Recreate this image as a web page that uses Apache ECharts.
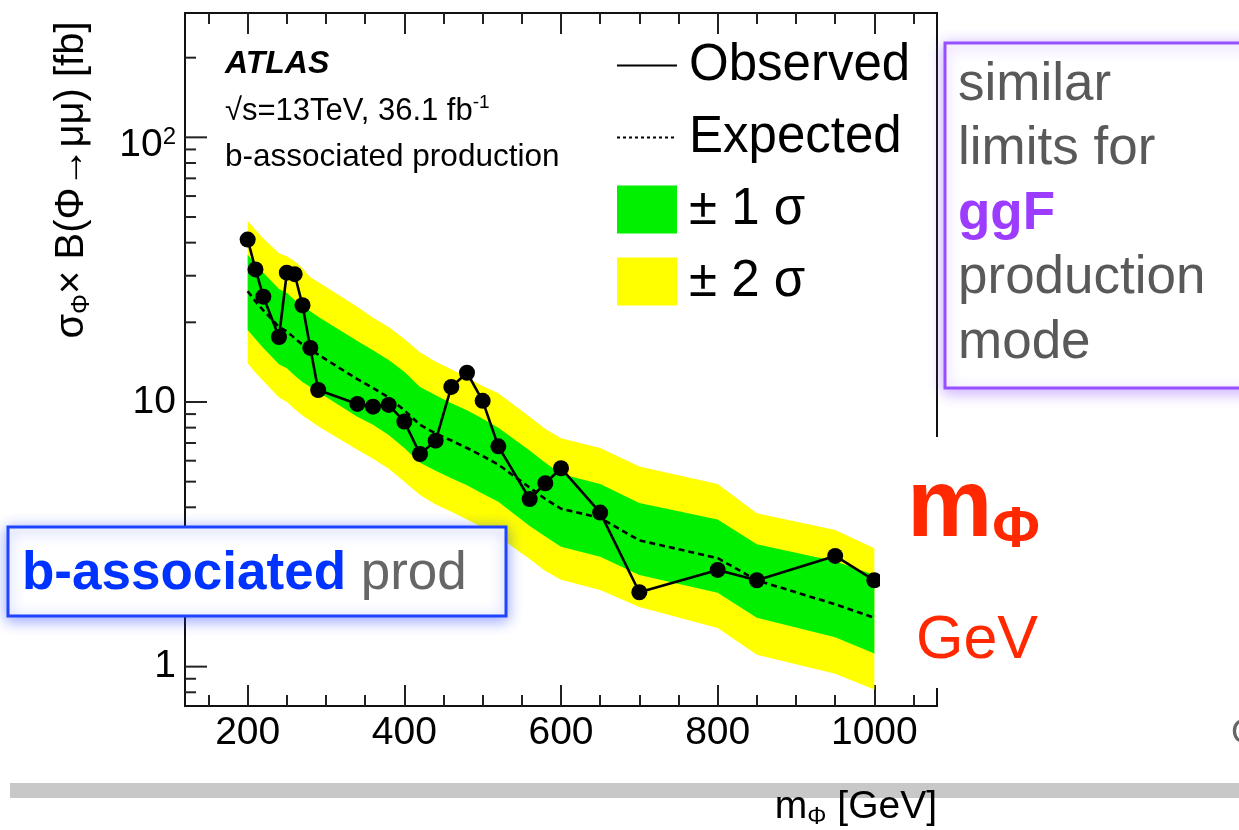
<!DOCTYPE html>
<html>
<head>
<meta charset="utf-8">
<title>ATLAS b-associated limits</title>
<script src="https://cdn.jsdelivr.net/npm/echarts@6/dist/echarts.min.js"></script>
<style>
  html, body { margin: 0; padding: 0; background: #fff; }
  #chart { width: 1239px; height: 830px; }
</style>
</head>
<body>
<div id="chart"></div>
<script>
// Scalar mass points (GeV) and 95% CL limits on sigma x B (fb)
const masses   = [200, 210, 220, 240, 250, 260, 270, 280, 290, 340, 360, 380, 400, 420, 440, 460, 480, 500, 520, 560, 580, 600, 650, 700, 800, 850, 950, 1000];
const observed = [41.1, 31.7, 25.0, 17.6, 30.8, 30.4, 23.2, 16.0, 11.1, 9.83, 9.6, 9.75, 8.43, 6.36, 7.14, 11.4, 12.9, 10.1, 6.8, 4.30, 4.93, 5.62, 3.82, 1.91, 2.32, 2.12, 2.62, 2.12];
const expected = [26.2, 24.0, 22.2, 19.2, 18.5, 17.4, 16.5, 15.8, 15.1, 12.2, 11.3, 10.4, 9.3, 8.2, 7.6, 7.15, 6.7, 6.25, 5.8, 4.75, 4.3, 3.95, 3.65, 3.0, 2.57, 2.12, 1.72, 1.53];
const minus2   = [14.0, 12.9, 12.0, 10.4, 10.0, 9.4, 8.9, 8.5, 8.1, 6.6, 6.1, 5.6, 5.0, 4.45, 4.1, 3.85, 3.6, 3.35, 3.1, 2.55, 2.3, 2.13, 1.95, 1.68, 1.40, 1.11, 0.94, 0.82];
const minus1   = [18.7, 17.3, 16.0, 13.9, 13.4, 12.6, 11.9, 11.4, 10.9, 8.8, 8.2, 7.5, 6.7, 5.9, 5.5, 5.15, 4.85, 4.5, 4.2, 3.4, 3.1, 2.84, 2.6, 2.22, 1.90, 1.53, 1.29, 1.12];
const plus1    = [36.0, 33.2, 30.8, 26.7, 25.8, 24.3, 23.0, 22.0, 21.0, 17.0, 15.7, 14.4, 13.0, 11.4, 10.6, 9.9, 9.3, 8.65, 8.0, 6.55, 5.9, 5.35, 4.9, 4.15, 3.6, 2.9, 2.5, 2.22];
const plus2    = [48.3, 44.8, 41.5, 36.5, 35.5, 34.0, 32.0, 29.6, 28.4, 22.9, 20.8, 19.2, 17.3, 15.4, 14.2, 13.3, 12.4, 11.5, 10.8, 8.8, 7.9, 7.3, 6.7, 5.7, 4.9, 3.8, 3.28, 2.8];

// Axis ranges and tick values
const X_MIN = 120, X_MAX = 1080;
const Y_MIN = 0.71, Y_MAX = 295;
const xMajorTicks = [200, 400, 600, 800, 1000];
const xMinorTicks = [150, 250, 300, 350, 450, 500, 550, 650, 700, 750, 850, 900, 950, 1050];
const yMajorTicks = [1, 10, 100];
const yMinorTicks = [0.8, 0.9, 2, 3, 4, 5, 6, 7, 8, 9, 20, 30, 40, 50, 60, 70, 80, 90, 200];

const FONT = "'Liberation Sans', Arial, Helvetica, sans-serif";
const TICK_COLOR = '#222';

const chart = echarts.init(document.getElementById('chart'), null, { renderer: 'canvas' });

// Filled band between two limit curves, drawn once as a single polygon
function bandRenderer(lo, hi) {
  return function (params, api) {
    if (params.dataIndex !== 0) return;
    const pts = [];
    for (let i = 0; i < masses.length; i++) pts.push(api.coord([masses[i], hi[i]]));
    for (let i = masses.length - 1; i >= 0; i--) pts.push(api.coord([masses[i], lo[i]]));
    return { type: 'polygon', shape: { points: pts }, style: { fill: api.visual('color') } };
  };
}

// Tick marks on the left edge of the log axis
function yTickRenderer(len) {
  return function (params, api) {
    const p = api.coord([api.value(0), api.value(1)]);
    return {
      type: 'line',
      shape: { x1: p[0], y1: p[1], x2: p[0] + len, y2: p[1] },
      style: { stroke: TICK_COLOR, lineWidth: 2 }
    };
  };
}

function xAxisDef(position, ticks, len, withLabels) {
  return {
    type: 'value', position: position, min: X_MIN, max: X_MAX,
    splitLine: { show: false }, axisLine: { show: false },
    axisTick: { show: true, inside: true, length: len, customValues: ticks,
                lineStyle: { color: TICK_COLOR, width: 2 } },
    axisLabel: withLabels
      ? { show: true, customValues: ticks, fontSize: 39, fontFamily: FONT, color: '#000', margin: 8,
          formatter: function (v) { return String(v); } }
      : { show: false }
  };
}

const option = {
  animation: false,
  backgroundColor: '#fff',
  grid: {
    left: 185, top: 13, right: 302, bottom: 124,
    show: true, borderColor: '#111', borderWidth: 2, backgroundColor: 'transparent',
    containLabel: false, outerBoundsMode: 'none'
  },
  xAxis: [
    xAxisDef('bottom', xMajorTicks, 21, true),
    xAxisDef('bottom', xMinorTicks, 11, false),
    xAxisDef('top', xMajorTicks, 21, false),
    xAxisDef('top', xMinorTicks, 11, false)
  ],
  yAxis: {
    type: 'log', logBase: 10, min: Y_MIN, max: Y_MAX,
    axisLine: { show: false }, axisTick: { show: false }, splitLine: { show: false },
    minorTick: { show: false },
    axisLabel: {
      margin: 9,
      formatter: function (v) {
        const e = Math.log10(v);
        if (Math.abs(e - Math.round(e)) > 1e-6) return '';
        const n = Math.round(e);
        if (n === 0) return '{c|1}';
        if (n === 1) return '{c|10}';
        if (n === 2) return '{b|10}{s|2}';
        return '';
      },
      rich: {
        c: { fontSize: 39, fontFamily: FONT, color: '#000' },
        b: { fontSize: 39, fontFamily: FONT, color: '#000', lineHeight: 40, verticalAlign: 'bottom' },
        s: { fontSize: 24, fontFamily: FONT, color: '#000', lineHeight: 54 }
      }
    }
  },
  legend: {
    left: 616, top: 40, orient: 'vertical', padding: 0,
    itemWidth: 60, itemHeight: 48, itemGap: 21,
    selectedMode: false,
    textStyle: { fontSize: 51, fontFamily: FONT, color: '#000', lineHeight: 48, padding: [0, 0, 0, 7] },
    data: [
      { name: 'Observed', itemStyle: { opacity: 0 }, lineStyle: { width: 2, type: 'solid', color: '#000' } },
      { name: 'Expected', itemStyle: { opacity: 0 }, lineStyle: { width: 2, type: [3, 3], color: '#000' } },
      { name: '± 1 σ', icon: 'rect' },
      { name: '± 2 σ', icon: 'rect' }
    ]
  },
  series: [
    {
      name: '± 2 σ', type: 'custom', silent: true,
      itemStyle: { color: '#ffff00' },
      data: masses.map((m, i) => [m, minus2[i], plus2[i]]),
      encode: { x: 0, y: [1, 2] },
      renderItem: bandRenderer(minus2, plus2), z: 1
    },
    {
      name: '± 1 σ', type: 'custom', silent: true,
      itemStyle: { color: '#00f000' },
      data: masses.map((m, i) => [m, minus1[i], plus1[i]]),
      encode: { x: 0, y: [1, 2] },
      renderItem: bandRenderer(minus1, plus1), z: 1
    },
    {
      name: 'Expected', type: 'line', symbol: 'none',
      data: masses.map((m, i) => [m, expected[i]]),
      lineStyle: { color: '#000', width: 2.6, type: [6, 4] },
      itemStyle: { color: '#000' }, z: 3
    },
    {
      name: 'Observed', type: 'line', symbol: 'circle', symbolSize: 16,
      data: masses.map((m, i) => [m, observed[i]]),
      lineStyle: { color: '#000', width: 2.6 },
      itemStyle: { color: '#000' }, z: 4
    },
    {
      name: 'y-major-ticks', type: 'custom', silent: true,
      data: yMajorTicks.map(v => [X_MIN, v]), encode: { x: 0, y: 1 },
      renderItem: yTickRenderer(22), z: 5
    },
    {
      name: 'y-minor-ticks', type: 'custom', silent: true,
      data: yMinorTicks.map(v => [X_MIN, v]), encode: { x: 0, y: 1 },
      renderItem: yTickRenderer(11), z: 5
    }
  ],
  graphic: {
    elements: [
      // grey separator bar behind the x-axis title
      { type: 'rect', z: 50, shape: { x: 10, y: 783, width: 1229, height: 15 }, style: { fill: '#c8c8c8' } },
      {
        type: 'text', z: 60, x: 937, y: 807,
        style: {
          text: '{n|m}{s|Φ}{n| [GeV]}', align: 'right', verticalAlign: 'middle',
          rich: {
            n: { fontSize: 39, fontFamily: FONT, fill: '#000', lineHeight: 44 },
            s: { fontSize: 24, fontFamily: FONT, fill: '#000', lineHeight: 16, verticalAlign: 'bottom' }
          }
        }
      },
      // y-axis title
      {
        type: 'text', z: 60, x: 72, y: 180, rotation: Math.PI / 2,
        style: {
          text: '{n|σ}{s|Φ}{n|× B(Φ→μμ) [fb]}', align: 'center', verticalAlign: 'middle',
          rich: {
            n: { fontSize: 40, fontFamily: FONT, fill: '#000', lineHeight: 46 },
            s: { fontSize: 25, fontFamily: FONT, fill: '#000', lineHeight: 17, verticalAlign: 'bottom' }
          }
        }
      },
      // experiment labels
      {
        type: 'text', z: 60, x: 225, y: 64,
        style: { text: 'ATLAS', fontSize: 32, fontWeight: 'bold', fontStyle: 'italic', fontFamily: FONT, fill: '#000', verticalAlign: 'middle' }
      },
      {
        type: 'text', z: 60, x: 225, y: 111,
        style: {
          text: '{n|√s=13TeV, 36.1 fb}{s|-1}', verticalAlign: 'middle',
          rich: {
            n: { fontSize: 31, fontFamily: FONT, fill: '#000', lineHeight: 36 },
            s: { fontSize: 19, fontFamily: FONT, fill: '#000', lineHeight: 19, verticalAlign: 'top' }
          }
        }
      },
      {
        type: 'text', z: 60, x: 225, y: 157,
        style: { text: 'b-associated production', fontSize: 31.5, fontFamily: FONT, fill: '#000', verticalAlign: 'middle' }
      },
      // side note box
      {
        type: 'rect', z: 100, shape: { x: 945, y: 43, width: 330, height: 345 },
        style: { fill: '#fff', stroke: '#9650ff', lineWidth: 3, shadowBlur: 14, shadowOffsetY: 3, shadowColor: 'rgba(140,70,255,0.45)' }
      },
      {
        type: 'text', z: 101, x: 958, y: 214,
        style: {
          text: '{g|similar}\n{g|limits for}\n{p|ggF}\n{g|production}\n{g|mode}',
          verticalAlign: 'middle',
          rich: {
            g: { fontSize: 53, fontFamily: FONT, fill: '#595959', lineHeight: 64.5 },
            p: { fontSize: 53, fontFamily: FONT, fontWeight: 'bold', fill: '#9b3cff', lineHeight: 64.5 }
          }
        }
      },
      // production-mode box
      {
        type: 'rect', z: 100, shape: { x: 8, y: 527, width: 498, height: 89 },
        style: { fill: '#fff', stroke: '#1f44ff', lineWidth: 3, shadowBlur: 14, shadowOffsetY: 3, shadowColor: 'rgba(30,60,255,0.45)' }
      },
      {
        type: 'text', z: 101, x: 22, y: 574,
        style: {
          text: '{b|b-associated}{p| prod}', verticalAlign: 'middle',
          rich: {
            b: { fontSize: 53, fontFamily: FONT, fontWeight: 'bold', fill: '#0033ff', lineHeight: 60 },
            p: { fontSize: 53, fontFamily: FONT, fill: '#666666', lineHeight: 60 }
          }
        }
      },
      // mass annotation panel
      { type: 'rect', z: 90, shape: { x: 880, y: 437, width: 220, height: 251 }, style: { fill: '#fff' } },
      {
        type: 'text', z: 101, x: 907, y: 510,
        style: {
          text: '{m|m}{f|Φ}', verticalAlign: 'middle',
          rich: {
            m: { fontSize: 96, fontFamily: FONT, fontWeight: 'bold', fill: '#ff2800', lineHeight: 100 },
            f: { fontSize: 58, fontFamily: FONT, fontWeight: 'bold', fill: '#ff2800', lineHeight: 54, verticalAlign: 'bottom' }
          }
        }
      },
      {
        type: 'text', z: 101, x: 916, y: 641,
        style: { text: 'GeV', fontSize: 61, fontFamily: FONT, fill: '#ff2800', verticalAlign: 'middle' }
      },
      {
        type: 'text', z: 101, x: 1231, y: 733,
        style: { text: 'C', fontSize: 35, fontFamily: FONT, fill: '#666666', verticalAlign: 'middle' }
      }
    ]
  }
};

chart.setOption(option);
</script>
</body>
</html>
